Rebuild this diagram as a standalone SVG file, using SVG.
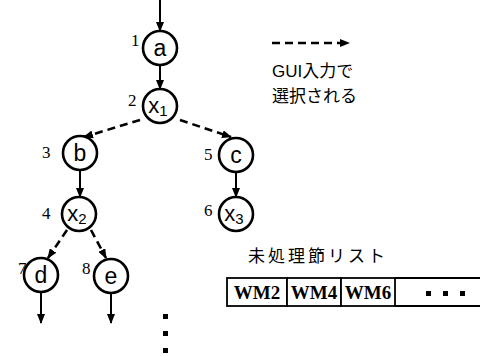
<svg xmlns="http://www.w3.org/2000/svg" width="480" height="356" viewBox="0 0 480 356">
<style>
.node circle{fill:#fff;stroke:#000;stroke-width:2.6}
.lbl{font-family:"Liberation Sans","Noto Sans",sans-serif;font-size:23px;text-anchor:middle;fill:#000}
.xl{font-size:22px}
.sub{font-size:15px}
.num{font-family:"Liberation Serif",serif;font-size:17px;fill:#000}
.solid{stroke:#000;stroke-width:2;fill:none;marker-end:url(#ah)}
.dash{stroke:#000;stroke-width:2.6;fill:none;stroke-dasharray:8 5;marker-end:url(#ah)}
.jp{font-family:"Liberation Sans","Noto Sans CJK JP",sans-serif;font-size:17px;fill:#000}
.wm{font-family:"Liberation Serif",serif;font-size:19px;font-weight:bold;fill:#000}
.cell{fill:#fff;stroke:#000;stroke-width:1.8}
</style>
<defs>
<marker id="ah" markerWidth="10" markerHeight="8" refX="9" refY="4" orient="auto" markerUnits="userSpaceOnUse">
<path d="M0,0 L10,4 L0,8 Z" fill="#000"/>
</marker>
</defs>
<g id="connectors">
<line class="solid" x1="160" y1="0" x2="160" y2="31"/>
<line class="solid" x1="160" y1="65" x2="160" y2="89"/>
<line class="dash" x1="140" y1="120" x2="84" y2="137"/>
<line class="dash" x1="180" y1="120" x2="231" y2="137"/>
<line class="solid" x1="80" y1="170" x2="80" y2="197"/>
<line class="solid" x1="236" y1="172" x2="236" y2="197"/>
<line class="dash" x1="67" y1="230" x2="48" y2="258"/>
<line class="dash" x1="91" y1="230" x2="106" y2="258"/>
<line class="solid" x1="41" y1="292" x2="41" y2="323"/>
<line class="solid" x1="111" y1="293" x2="111" y2="323"/>
</g>
<g id="node-a" class="node"><circle cx="160" cy="48" r="17"/><text class="lbl" x="160" y="56">a</text><text class="num" x="131" y="46">1</text></g>
<g id="node-x1" class="node"><circle cx="160" cy="106" r="17"/><text class="lbl xl" x="158" y="113">x<tspan class="sub" dy="3">1</tspan></text><text class="num" x="128" y="106">2</text></g>
<g id="node-b" class="node"><circle cx="80" cy="153" r="17"/><text class="lbl" x="80" y="161">b</text><text class="num" x="42" y="158">3</text></g>
<g id="node-c" class="node"><circle cx="236" cy="155" r="17"/><text class="lbl" x="236" y="163">c</text><text class="num" x="204" y="160">5</text></g>
<g id="node-x2" class="node"><circle cx="79" cy="214" r="17"/><text class="lbl xl" x="77" y="221">x<tspan class="sub" dy="3">2</tspan></text><text class="num" x="42" y="219">4</text></g>
<g id="node-x3" class="node"><circle cx="236" cy="214" r="17"/><text class="lbl xl" x="234" y="221">x<tspan class="sub" dy="3">3</tspan></text><text class="num" x="204" y="216">6</text></g>
<g id="node-d" class="node"><circle cx="41" cy="275" r="17"/><text class="lbl" x="41" y="283">d</text><text class="num" x="18" y="274">7</text></g>
<g id="node-e" class="node"><circle cx="111" cy="276" r="17"/><text class="lbl" x="111" y="284">e</text><text class="num" x="82" y="274">8</text></g>
<g id="vdots" fill="#000">
<rect x="163" y="314" width="5" height="5"/>
<rect x="163" y="331" width="5" height="5"/>
<rect x="163" y="348" width="5" height="5"/>
</g>
<g id="legend">
<line class="dash" x1="272" y1="43" x2="349" y2="43"/>
<text class="jp" x="272" y="77">GUI入力で</text>
<text class="jp" x="272" y="102">選択される</text>
</g>
<g id="list">
<text class="jp" x="248" y="262" letter-spacing="3">未処理節リスト</text>
<rect class="cell" x="227" y="278" width="60" height="28"/>
<rect class="cell" x="287" y="278" width="54" height="28"/>
<rect class="cell" x="341" y="278" width="54" height="28"/>
<path d="M395,278 L482,278 M395,306 L482,306" stroke="#000" stroke-width="1.8"/>
<text class="wm" x="257" y="299" text-anchor="middle">WM2</text>
<text class="wm" x="314" y="299" text-anchor="middle">WM4</text>
<text class="wm" x="368" y="299" text-anchor="middle">WM6</text>
<rect x="426" y="291" width="5" height="5" fill="#000"/>
<rect x="443" y="291" width="5" height="5" fill="#000"/>
<rect x="460" y="291" width="5" height="5" fill="#000"/>
</g>
</svg>
